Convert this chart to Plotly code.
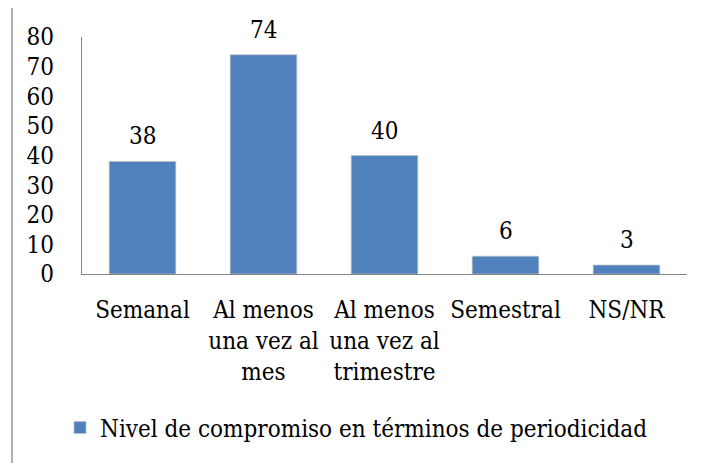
import plotly.graph_objects as go

categories = ["Semanal", "Al menos<br>una vez al<br>mes", "Al menos<br>una vez al<br>trimestre", "Semestral", "NS/NR"]
values = [38, 74, 40, 6, 3]
series_name = "Nivel de compromiso en términos de periodicidad"
y_ticks = [0, 10, 20, 30, 40, 50, 60, 70, 80]

FONT = "DejaVu Serif Condensed"
FS = 24
# plot area (figure coords, page offset of 8px removed)
L, R, T, B = 74, 679, 29, 266
W, H = 694, 455
fig = go.Figure()
fig.add_trace(go.Bar(
    x=categories, y=values, name=series_name,
    marker=dict(color="#4F81BD", line=dict(color="rgba(190,190,190,0.7)", width=1)),
    width=0.55,
))
for c, v in zip(categories, values):
    fig.add_annotation(x=c, y=v, text=str(v), showarrow=False, yanchor="bottom",
                       yshift=9, font=dict(family=FONT, size=FS, color="black"))

fig.add_shape(type="rect", xref="paper", yref="paper",
              x0=(4-L)/(R-L), x1=(W+5-L)/(R-L), y0=(B-(H+5))/(B-T), y1=(B-(-1))/(B-T),
              line=dict(color="#868686", width=1.3), fillcolor="rgba(0,0,0,0)", layer="below")

fig.update_layout(
    width=W, height=H,
    margin=dict(l=L, r=W-R, t=T, b=H-B),
    paper_bgcolor="white", plot_bgcolor="white",
    font=dict(family=FONT, size=FS, color="black"),
    showlegend=True,
    legend=dict(orientation="h", x=(52-L)/(R-L), xanchor="left", y=-(420-266)/(B-T), yanchor="middle",
                font=dict(family=FONT, size=FS, color="black")),
    bargap=0.45,
)
fig.update_yaxes(range=[0, 80], tickvals=y_ticks, showgrid=False, zeroline=False,
                 showline=True, linecolor="#868686", linewidth=1.3, ticks="",
                 ticklabelstandoff=22, tickfont=dict(family=FONT, size=FS))
fig.update_xaxes(showgrid=False, showline=True, linecolor="#868686", linewidth=1.3,
                 ticks="", ticklabelstandoff=14, tickangle=0, tickfont=dict(family=FONT, size=FS))

fig.write_html("out.html")
